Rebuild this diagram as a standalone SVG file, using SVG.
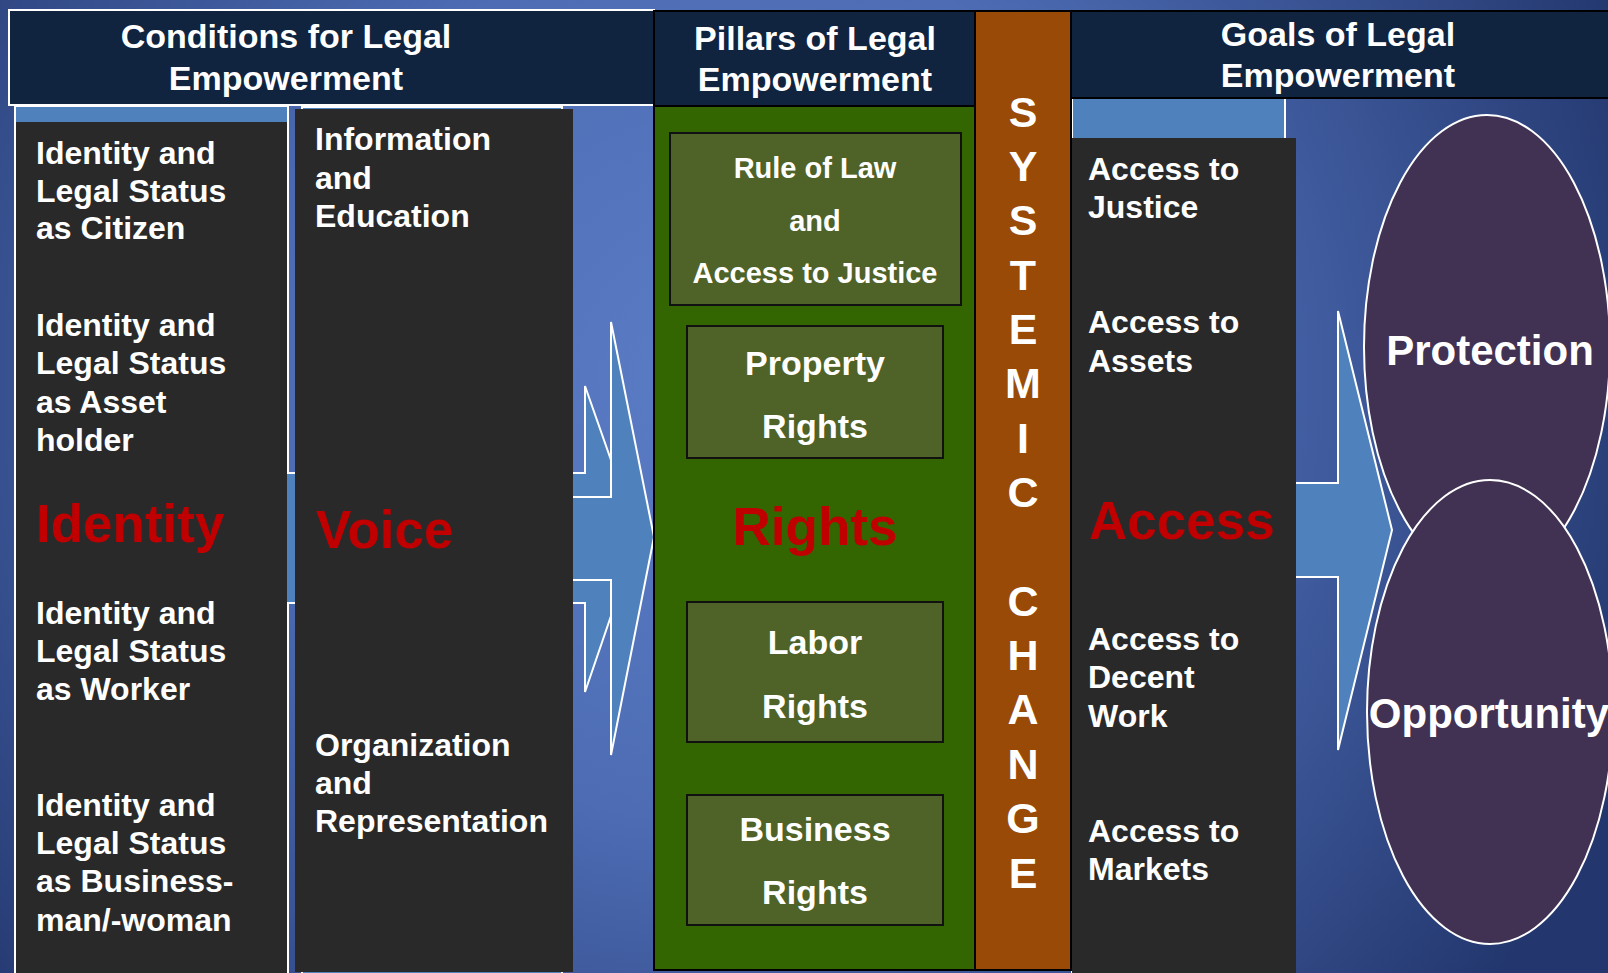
<svg xmlns="http://www.w3.org/2000/svg" width="1608" height="973" viewBox="0 0 1608 973">
<defs>
<radialGradient id="bg" cx="720" cy="380" r="980" gradientUnits="userSpaceOnUse">
<stop offset="0" stop-color="#5b7dc6"/>
<stop offset="0.45" stop-color="#4d6cb4"/>
<stop offset="1" stop-color="#23376e"/>
</radialGradient>
<style>
text{font-family:"Liberation Sans",Arial,sans-serif;font-weight:bold;}
.hdr{fill:#10233f;}
.hw{fill:#ffffff;font-size:34px;text-anchor:middle;}
.tw{fill:#ffffff;font-size:32px;}
.red{fill:#c00000;font-size:53px;}
.dark{fill:#292929;}
.blue{fill:#4f81bd;stroke:#ffffff;stroke-width:2;}
.olive{fill:#4f6228;stroke:#111;stroke-width:2;}
.pt{fill:#ffffff;font-size:34px;text-anchor:middle;}
.ps{fill:#ffffff;font-size:29px;text-anchor:middle;}
.ell{fill:#413152;stroke:#ffffff;stroke-width:2;}
.sys{fill:#ffffff;font-size:43px;text-anchor:middle;}
.big{fill:#ffffff;font-size:42px;text-anchor:middle;}
</style>
</defs>
<rect x="0" y="0" width="1608" height="973" fill="url(#bg)"/>

<g id="backing">
<rect x="15" y="106" width="273" height="880" class="blue" stroke-width="1.5"/>
<rect x="302" y="107" width="260" height="880" class="blue" stroke-width="1.5"/>
<rect x="1072" y="98" width="213" height="890" class="blue" stroke-width="1.5"/>
</g>

<g id="connectors">
<polygon class="blue" points="250,473 585,473 585,386 638,537 585,692 585,603 250,603"/>
<polygon class="blue" points="300,497 611,497 611,322 654,537 611,755 611,580 300,580"/>
<polygon class="blue" points="1280,483 1338,483 1338,311 1392,530 1338,750 1338,577 1280,577"/>
</g>

<g id="conditions-header">
<rect x="9" y="10" width="645" height="95" class="hdr" stroke="#ffffff" stroke-width="2"/>
<text class="hw" x="286" y="48">Conditions for Legal</text>
<text class="hw" x="286" y="90">Empowerment</text>
</g>

<g id="identity">
<rect x="16" y="122" width="271" height="860" class="dark"/>
<text class="tw" x="36" y="164">Identity and</text>
<text class="tw" x="36" y="202">Legal Status</text>
<text class="tw" x="36" y="239">as Citizen</text>
<text class="tw" x="36" y="336">Identity and</text>
<text class="tw" x="36" y="374">Legal Status</text>
<text class="tw" x="36" y="413">as Asset</text>
<text class="tw" x="36" y="451">holder</text>
<text class="red" x="36" y="542">Identity</text>
<text class="tw" x="36" y="624">Identity and</text>
<text class="tw" x="36" y="662">Legal Status</text>
<text class="tw" x="36" y="700">as Worker</text>
<text class="tw" x="36" y="816">Identity and</text>
<text class="tw" x="36" y="854">Legal Status</text>
<text class="tw" x="36" y="892">as Business-</text>
<text class="tw" x="36" y="931">man/-woman</text>
</g>

<g id="voice">
<rect x="295" y="109" width="278" height="863" class="dark"/>
<text class="tw" x="315" y="150">Information</text>
<text class="tw" x="315" y="189">and</text>
<text class="tw" x="315" y="227">Education</text>
<text class="red" x="316" y="548">Voice</text>
<text class="tw" x="315" y="756">Organization</text>
<text class="tw" x="315" y="794">and</text>
<text class="tw" x="315" y="832">Representation</text>
</g>

<g id="pillars-header">
<rect x="654" y="11" width="321" height="95" class="hdr" stroke="#000" stroke-width="2"/>
<text class="hw" x="815" y="50">Pillars of Legal</text>
<text class="hw" x="815" y="91">Empowerment</text>
</g>

<g id="rights">
<rect x="654" y="106" width="321" height="864" fill="#336600" stroke="#000" stroke-width="2"/>
<g id="rule-of-law">
<rect x="670" y="133" width="291" height="172" class="olive"/>
<text class="ps" x="815" y="178">Rule of Law</text>
<text class="ps" x="815" y="231">and</text>
<text class="ps" x="815" y="283">Access to Justice</text>
</g>
<g id="property-rights">
<rect x="687" y="326" width="256" height="132" class="olive"/>
<text class="pt" x="815" y="375">Property</text>
<text class="pt" x="815" y="438">Rights</text>
</g>
<text class="red" x="815" y="545" text-anchor="middle">Rights</text>
<g id="labor-rights">
<rect x="687" y="602" width="256" height="140" class="olive"/>
<text class="pt" x="815" y="654">Labor</text>
<text class="pt" x="815" y="718">Rights</text>
</g>
<g id="business-rights">
<rect x="687" y="795" width="256" height="130" class="olive"/>
<text class="pt" x="815" y="841">Business</text>
<text class="pt" x="815" y="904">Rights</text>
</g>
</g>

<g id="systemic-change">
<rect x="975" y="11" width="96" height="959" fill="#994a06" stroke="#000" stroke-width="2"/>
<text class="sys" x="1023" y="127">S</text>
<text class="sys" x="1023" y="181">Y</text>
<text class="sys" x="1023" y="235">S</text>
<text class="sys" x="1023" y="290">T</text>
<text class="sys" x="1023" y="344">E</text>
<text class="sys" x="1023" y="398">M</text>
<text class="sys" x="1023" y="453">I</text>
<text class="sys" x="1023" y="507">C</text>
<text class="sys" x="1023" y="616">C</text>
<text class="sys" x="1023" y="670">H</text>
<text class="sys" x="1023" y="724">A</text>
<text class="sys" x="1023" y="779">N</text>
<text class="sys" x="1023" y="833">G</text>
<text class="sys" x="1023" y="888">E</text>
</g>

<g id="goals-header">
<rect x="1071" y="11" width="545" height="87" class="hdr" stroke="#000" stroke-width="2"/>
<text class="hw" x="1338" y="46">Goals of Legal</text>
<text class="hw" x="1338" y="87">Empowerment</text>
</g>

<g id="access">
<rect x="1072" y="138" width="224" height="840" class="dark"/>
<text class="tw" x="1088" y="180">Access to</text>
<text class="tw" x="1088" y="218">Justice</text>
<text class="tw" x="1088" y="333">Access to</text>
<text class="tw" x="1088" y="372">Assets</text>
<text class="red" x="1089" y="539">Access</text>
<text class="tw" x="1088" y="650">Access to</text>
<text class="tw" x="1088" y="688">Decent</text>
<text class="tw" x="1088" y="727">Work</text>
<text class="tw" x="1088" y="842">Access to</text>
<text class="tw" x="1088" y="880">Markets</text>
</g>

<g id="protection">
<ellipse class="ell" cx="1487" cy="347" rx="123" ry="232"/>
<text class="big" x="1490" y="365">Protection</text>
</g>

<g id="opportunity">
<ellipse class="ell" cx="1490" cy="712" rx="123" ry="232"/>
<text class="big" x="1489" y="728">Opportunity</text>
</g>
</svg>
